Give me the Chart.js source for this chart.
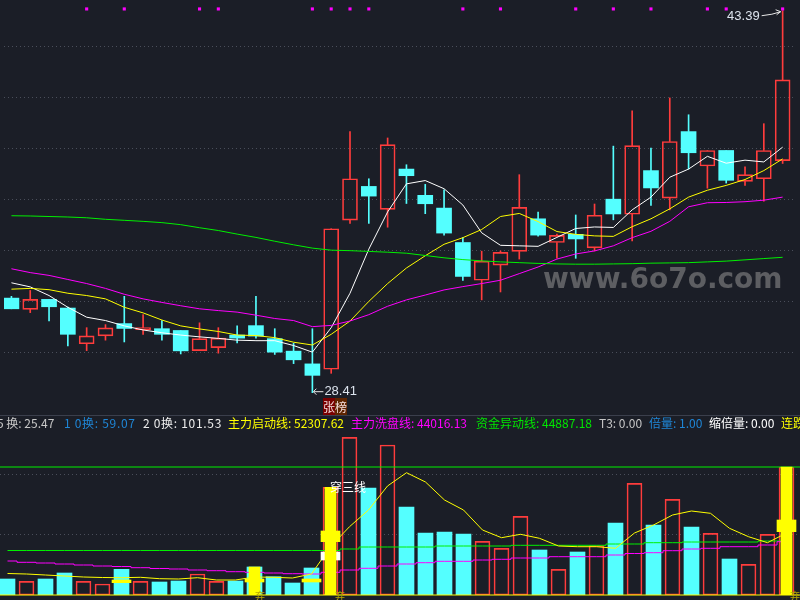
<!DOCTYPE html>
<html>
<head>
<meta charset="utf-8">
<script src="https://cdn.jsdelivr.net/npm/chart.js@4.4.0/dist/chart.umd.min.js"></script>
<style>
body { margin: 0; background: #1b1e27; }
#wrap { position: relative; width: 800px; height: 600px; overflow: hidden; background: #1b1e27; font-family: "Noto Sans CJK SC", "Noto Sans", sans-serif; }
canvas { position: absolute; left: 0; }
.stat { position: absolute; top: 416px; font-size: 12px; line-height: 14px; white-space: nowrap; }
.wide { letter-spacing: 0.7px; }
.tag { position: absolute; white-space: nowrap; }
</style>
</head>
<body>
<div id="wrap">
  <canvas id="priceChart" width="800" height="415" style="top:0"></canvas>
  <div style="position:absolute;left:0;top:415px;width:800px;height:1px;background:#3b3f4c"></div>
  <span class="stat" style="left:-3px;color:#c8c8c8">5 换: 25.47</span>
  <span class="stat wide" style="left:64px;color:#1f86d6">1 0换: 59.07</span>
  <span class="stat wide" style="left:143px;color:#eeeeee">2 0换: 101.53</span>
  <span class="stat" style="left:228px;color:#ffff00">主力启动线: 52307.62</span>
  <span class="stat" style="left:351px;color:#ff00ff">主力洗盘线: 44016.13</span>
  <span class="stat" style="left:476px;color:#00e600">资金异动线: 44887.18</span>
  <span class="stat" style="left:599px;color:#c8c8c8">T3: 0.00</span>
  <span class="stat" style="left:649px;color:#1f86d6">倍量: 1.00</span>
  <span class="stat" style="left:709px;color:#ffffff">缩倍量: 0.00</span>
  <span class="stat" style="left:781px;color:#ffff00">连跌</span>
  <canvas id="volChart" width="800" height="170" style="top:430px"></canvas>
  <div class="tag" style="left:323px;top:400px;font-size:12px;line-height:14px;color:#f4dede"><span style="background:#7a0000">张</span><span style="background:#5e2400">榜</span></div>
  <div class="tag" style="left:543px;top:265px;font:bold 28px 'DejaVu Sans',sans-serif;line-height:28px;color:#5d5e62">www.6o7o.com</div>
  <div class="tag" style="left:330px;top:480px;font-size:12px;line-height:14px;color:#ffffff">穿三线</div>
  <div class="tag" style="left:255px;top:590px;font-size:10px;line-height:12px;color:#b8a800">弃</div>
  <div class="tag" style="left:335px;top:590px;font-size:10px;line-height:12px;color:#b8a800">弃</div>
  <div class="tag" style="left:790px;top:590px;font-size:10px;line-height:12px;color:#b8a800">弃</div>
</div>
<script>
// daily candles
const opens  = [32.12, 31.68, 32.07, 31.73, 30.33, 30.64, 31.12, 30.88, 30.92, 30.85, 30.06, 30.18, 30.67, 31.04, 30.53, 30.04, 29.54, 29.33, 35.18, 36.50, 35.60, 37.18, 36.15, 35.65, 34.30, 32.82, 33.41, 33.95, 35.23, 34.30, 34.62, 34.09, 36.00, 35.41, 37.12, 36.04, 38.65, 37.30, 37.91, 36.70, 36.80, 37.51];
const highs  = [32.19, 32.42, 32.07, 31.77, 30.96, 31.08, 32.19, 31.47, 31.24, 30.85, 31.15, 30.96, 31.03, 32.19, 30.92, 30.35, 30.92, 34.84, 38.65, 36.80, 38.40, 37.35, 36.58, 36.37, 34.49, 33.96, 33.97, 36.96, 35.49, 34.63, 35.38, 35.81, 38.08, 39.46, 38.00, 39.97, 39.31, 37.91, 37.91, 37.27, 38.96, 43.39];
const lows   = [31.70, 31.55, 31.22, 30.24, 30.06, 30.47, 30.40, 30.70, 30.47, 29.93, 30.06, 29.96, 30.36, 30.55, 29.91, 29.55, 28.41, 29.17, 35.05, 35.05, 34.90, 35.83, 35.43, 34.59, 32.81, 32.05, 32.36, 33.65, 34.55, 33.69, 33.68, 33.97, 35.19, 34.36, 35.75, 35.58, 37.18, 36.43, 36.63, 36.54, 35.92, 37.40];
const closes = [31.70, 32.07, 31.78, 30.70, 30.64, 30.95, 30.93, 30.96, 30.70, 30.05, 30.53, 30.55, 30.55, 30.63, 30.00, 29.70, 29.09, 34.84, 36.80, 36.12, 38.14, 36.92, 35.82, 34.67, 32.97, 33.57, 33.91, 35.68, 34.59, 34.58, 34.44, 35.37, 35.42, 38.10, 36.44, 38.26, 37.82, 37.91, 36.74, 36.96, 37.91, 40.68];

// moving averages
const ma5  = [32.72, 32.56, 32.22, 31.76, 31.37, 31.24, 31.03, 30.87, 30.76, 30.67, 30.60, 30.54, 30.47, 30.45, 30.45, 30.26, 30.00, 30.96, 32.31, 34.04, 35.50, 36.60, 36.73, 36.41, 35.77, 34.68, 34.19, 34.17, 34.15, 34.50, 34.85, 34.91, 34.89, 35.58, 36.08, 36.86, 37.18, 37.68, 37.41, 37.53, 37.46, 38.04];
const ma10 = [32.47, 32.50, 32.45, 32.31, 32.22, 32.09, 31.76, 31.54, 31.26, 31.03, 30.91, 30.81, 30.67, 30.65, 30.57, 30.39, 30.28, 30.70, 31.22, 31.99, 32.69, 33.30, 33.78, 34.23, 34.49, 34.81, 35.32, 35.44, 35.12, 34.73, 34.62, 34.56, 34.54, 34.92, 35.23, 35.62, 36.08, 36.35, 36.54, 36.77, 37.12, 37.58];
const ma30 = [33.27, 33.12, 33.01, 32.85, 32.69, 32.50, 32.27, 32.09, 31.95, 31.82, 31.70, 31.63, 31.57, 31.45, 31.32, 31.24, 31.00, 31.05, 31.22, 31.47, 31.80, 32.05, 32.24, 32.44, 32.57, 32.69, 32.82, 33.08, 33.34, 33.65, 33.85, 33.97, 34.17, 34.49, 34.74, 35.13, 35.70, 35.86, 35.87, 35.90, 35.96, 36.08];
const ma60 = [35.35, 35.34, 35.32, 35.30, 35.27, 35.21, 35.17, 35.13, 35.08, 35.00, 34.88, 34.77, 34.63, 34.50, 34.35, 34.21, 34.08, 34.00, 33.98, 33.95, 33.92, 33.88, 33.79, 33.70, 33.63, 33.58, 33.54, 33.51, 33.48, 33.46, 33.45, 33.45, 33.46, 33.47, 33.49, 33.50, 33.51, 33.54, 33.57, 33.62, 33.67, 33.72];

// magenta signal dots along the top
const markIdx = [4, 6, 10, 11, 16, 17, 18, 19, 24, 26, 30, 32, 34, 37, 38, 41];
const markLevel = 43.46;

// volume panel
const volumes = [16000, 13700, 16000, 22000, 13700, 11000, 25700, 13700, 13000, 14000, 21000, 13700, 14000, 28000, 18300, 12000, 27000, 107700, 157700, 107000, 150000, 88000, 62000, 63000, 61000, 53700, 46700, 78700, 45000, 25700, 43000, 49300, 72000, 111700, 70000, 95700, 68000, 61700, 36000, 30700, 60700, 128000];
const startLine = [21500, 21000, 20000, 19000, 18000, 17500, 17300, 17700, 16300, 16000, 17300, 15000, 15000, 18000, 17700, 17000, 21000, 48300, 68300, 85000, 109000, 122300, 113000, 95000, 85000, 65000, 57300, 60700, 56700, 49000, 48300, 48300, 46700, 62000, 70000, 80000, 84000, 81700, 66700, 58300, 52300, 62000];
const washLine = [34000, 32700, 32000, 31000, 30000, 29000, 28500, 27300, 26500, 26000, 25000, 24300, 23300, 22700, 22000, 21300, 21000, 22700, 25000, 26700, 29000, 31000, 32300, 33700, 33700, 35000, 35700, 37000, 37000, 38300, 38300, 38300, 40000, 41500, 42300, 44300, 46000, 46700, 48300, 48300, 50000, 53300];
const moveLine = [44500, 44500, 44500, 44500, 44500, 44500, 44500, 44500, 44500, 44500, 44500, 44500, 44500, 44500, 44500, 44500, 44500, 44500, 46000, 48000, 48000, 48000, 48000, 49000, 49000, 49000, 49000, 49700, 49700, 49700, 49700, 49700, 51000, 51000, 52300, 52300, 53000, 53000, 53000, 53000, 54000, 54000];
const volLevel = 128000;
const signalIdx = [13, 17, 41];
const blockIdx = [6, 13, 16, 17, 41];
const blockLow = [12300, 13000, 13000, 53300, 63300];
const blockHigh = [15000, 16000, 16000, 64000, 75000];
const whiteIdx = [17];
const whiteLow = [35000];
const whiteHigh = [43000];

// grid ticks
const priceGrid = [30, 32, 34, 36, 38, 40, 42];
const volGrid = [61000, 121000];

const RED = '#ff3c3c';
const CYAN = '#54ffff';
const NONE = 'rgba(0,0,0,0)';

const idx = opens.map((v, i) => i);
const isUp = i => closes[i] >= opens[i];
const xMin = -7.5 / 19;
const xMax = xMin + 800 / 19;

const xScale = { type: 'linear', display: false, min: xMin, max: xMax, offset: false };

function lineSet(values, color, order) {
    return {
        type: 'line',
        data: idx.map(i => ({ x: i, y: values[i] })),
        borderColor: color,
        borderWidth: 1,
        pointRadius: 0,
        tension: 0,
        order: order
    };
}

const hiLoPlugin = {
    id: 'hiLo',
    afterDatasetsDraw(chart) {
        const { ctx, scales: { x, y } } = chart;
        const hi = highs.indexOf(Math.max(...highs));
        const lo = lows.indexOf(Math.min(...lows));
        ctx.save();
        ctx.strokeStyle = '#e8e8e8';
        ctx.fillStyle = '#dde4ee';
        ctx.lineWidth = 1;
        ctx.font = '13px "Liberation Sans", Arial, sans-serif';
        ctx.textBaseline = 'middle';

        // highest price
        let px = x.getPixelForValue(hi), py = y.getPixelForValue(highs[hi]);
        ctx.beginPath();
        ctx.moveTo(px - 21, py + 5);
        ctx.quadraticCurveTo(px - 10, py + 4, px - 2, py + 1);
        ctx.moveTo(px - 2, py + 1);
        ctx.lineTo(px - 7, py - 1);
        ctx.moveTo(px - 2, py + 1);
        ctx.lineTo(px - 6, py + 4);
        ctx.stroke();
        ctx.textAlign = 'right';
        ctx.fillText(highs[hi].toFixed(2), px - 23, py + 6);

        // lowest price
        px = x.getPixelForValue(lo);
        py = y.getPixelForValue(lows[lo]) - 1;
        ctx.beginPath();
        ctx.moveTo(px + 11, py);
        ctx.lineTo(px + 1, py);
        ctx.moveTo(px + 1, py);
        ctx.lineTo(px + 4, py - 3);
        ctx.moveTo(px + 1, py);
        ctx.lineTo(px + 4, py + 3);
        ctx.stroke();
        ctx.textAlign = 'left';
        ctx.fillText(lows[lo].toFixed(2), px + 12, py);
        ctx.restore();
    }
};

// Price chart: candles + moving averages
new Chart(document.getElementById('priceChart'), {
    type: 'bar',
    data: {
        datasets: [
            {
                data: idx.map(i => ({ x: i, y: [opens[i], closes[i]] })),
                backgroundColor: idx.map(i => isUp(i) ? NONE : CYAN),
                borderColor: idx.map(i => isUp(i) ? RED : CYAN),
                borderWidth: idx.map(i => isUp(i) ? 1 : 0),
                borderSkipped: false,
                barThickness: 15,
                grouped: false,
                order: 2
            },
            {
                data: idx.map(i => ({ x: i, y: [Math.max(opens[i], closes[i]), highs[i]] })),
                backgroundColor: idx.map(i => isUp(i) ? RED : CYAN),
                borderWidth: 0,
                barThickness: 1,
                grouped: false,
                order: 2
            },
            {
                data: idx.map(i => ({ x: i, y: [lows[i], Math.min(opens[i], closes[i])] })),
                backgroundColor: idx.map(i => isUp(i) ? RED : CYAN),
                borderWidth: 0,
                barThickness: 1,
                grouped: false,
                order: 2
            },
            lineSet(ma60, '#00f000', 1),
            lineSet(ma30, '#ff00ff', 1),
            lineSet(ma10, '#ffff00', 1),
            lineSet(ma5, '#ffffff', 1),
            {
                type: 'line',
                data: markIdx.map(i => ({ x: i, y: markLevel })),
                showLine: false,
                pointStyle: 'rect',
                pointRadius: 2.2,
                pointBorderWidth: 0,
                pointBackgroundColor: '#ff00ff',
                order: 0
            }
        ]
    },
    options: {
        responsive: false,
        animation: false,
        events: [],
        layout: { padding: 0 },
        plugins: { legend: { display: false }, tooltip: { enabled: false } },
        scales: {
            x: xScale,
            y: {
                min: 27.692,
                max: 43.654,
                ticks: { display: false },
                grid: { color: '#4a4e5a', drawTicks: false },
                border: { display: false, dash: [1, 3] },
                afterBuildTicks: s => { s.ticks = priceGrid.map(v => ({ value: v })); }
            }
        }
    },
    plugins: [hiLoPlugin]
});

// Volume chart
new Chart(document.getElementById('volChart'), {
    type: 'bar',
    data: {
        datasets: [
            {
                data: signalIdx.map(i => ({ x: i, y: volumes[i] })),
                backgroundColor: '#ffff00',
                borderWidth: 0,
                barThickness: 11,
                grouped: false,
                order: 0
            },
            {
                data: blockIdx.map((v, k) => ({ x: v, y: [blockLow[k], blockHigh[k]] })),
                backgroundColor: '#ffff00',
                borderWidth: 0,
                barThickness: 19,
                grouped: false,
                order: 0
            },
            {
                data: whiteIdx.map((v, k) => ({ x: v, y: [whiteLow[k], whiteHigh[k]] })),
                backgroundColor: '#ffffff',
                borderWidth: 0,
                barThickness: 19,
                grouped: false,
                order: 0
            },
            lineSet(startLine, '#ffff00', 1),
            Object.assign(lineSet(washLine, '#ff00ff', 1), { stepped: 'middle' }),
            Object.assign(lineSet(moveLine, '#00f000', 1), { stepped: 'middle' }),
            {
                type: 'line',
                data: [{ x: -1, y: volLevel }, { x: 42, y: volLevel }],
                borderColor: '#00f000',
                borderWidth: 1,
                pointRadius: 0,
                order: 1
            },
            {
                type: 'line',
                data: [{ x: -1, y: 0 }, { x: 42, y: 0 }],
                borderColor: '#ffff00',
                borderWidth: 1,
                pointRadius: 0,
                clip: { left: 0, right: 0, top: 0, bottom: 2 },
                order: 1
            },
            {
                data: idx.map(i => ({ x: i, y: volumes[i] })),
                backgroundColor: idx.map(i => isUp(i) ? NONE : CYAN),
                borderColor: idx.map(i => isUp(i) ? RED : CYAN),
                borderWidth: idx.map(i => isUp(i) ? 1 : 0),
                borderSkipped: false,
                barThickness: 15,
                grouped: false,
                order: 2
            }
        ]
    },
    options: {
        responsive: false,
        animation: false,
        events: [],
        layout: { padding: { bottom: 5 } },
        plugins: { legend: { display: false }, tooltip: { enabled: false } },
        scales: {
            x: xScale,
            y: {
                min: 0,
                max: 165000,
                ticks: { display: false },
                grid: { color: '#4a4e5a', drawTicks: false },
                border: { display: false, dash: [1, 3] },
                afterBuildTicks: s => { s.ticks = volGrid.map(v => ({ value: v })); }
            }
        }
    }
});
</script>
</body>
</html>
